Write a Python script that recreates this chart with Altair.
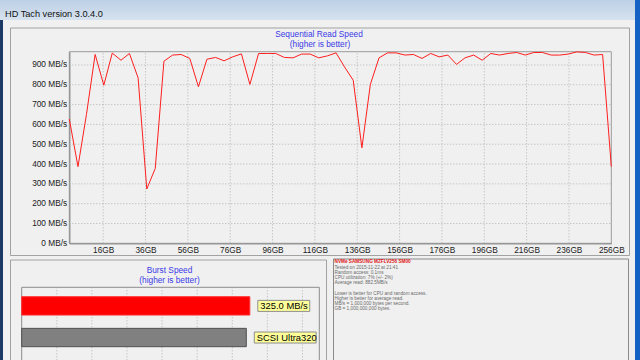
import altair as alt
import pandas as pd

# ---------------- data ----------------
gb = [0.0, 4.1, 8.1, 12.2, 16.3, 20.3, 24.4, 28.4, 32.5, 36.6, 40.6, 44.7, 48.8, 52.8,
      56.9, 61.0, 65.0, 69.1, 73.1, 77.2, 81.3, 85.3, 89.4, 93.5, 97.5, 101.6, 105.7,
      109.7, 113.8, 117.8, 121.9, 126.0, 130.0, 134.1, 138.2, 142.2, 146.3, 150.3, 154.4,
      158.5, 162.5, 166.6, 170.7, 174.7, 178.8, 182.9, 186.9, 191.0, 195.0, 199.1, 203.2,
      207.2, 211.3, 215.4, 219.4, 223.5, 227.6, 231.6, 235.7, 239.7, 243.8, 247.9, 251.9,
      256.0]
mbs = [627, 387, 650, 953, 798, 960, 924, 958, 835, 274,
       378, 919, 950, 953, 933, 790, 929, 938, 921, 941,
       956, 802, 958, 958, 958, 938, 936, 955, 955, 936,
       946, 961, 890, 823, 482, 802, 936, 961, 961, 950,
       953, 933, 958, 941, 950, 903, 936, 950, 924, 958,
       950, 958, 963, 950, 963, 963, 950, 950, 955, 966,
       963, 950, 953, 387]
y_ticks = [0, 100, 200, 300, 400, 500, 600, 700, 800, 900]
x_ticks = [16, 36, 56, 76, 96, 116, 136, 156, 176, 196, 216, 236, 256]

burst_rows = ["Drive", "SCSI Ultra320"]
burst_values = [325.0, 320.0]
burst_labels = ["325.0 MB/s", "SCSI Ultra320"]
burst_colors = ["#ff0000", "#808080"]
burst_strokes = ["#ff3030", "#505050"]
burst_grid = [50, 100, 150, 200, 250, 300, 350, 400]

info_lines = [
    "NVMe SAMSUNG MZFLV256 SM00",
    " Tested on 2015-11-22 at 21:41",
    " Random access: 0.1ms",
    " CPU utilization: 7% (+/- 2%)",
    " Average read: 882.5MB/s",
    "",
    "Lower is better for CPU and random access.",
    "Higher is better for average read.",
    "MB/s = 1,000,000 bytes per second.",
    "GB = 1,000,000,000 bytes.",
]

app_title = "HD Tach version 3.0.4.0"
seq_title = ["Sequential Read Speed", "(higher is better)"]
burst_title = ["Burst Speed", "(higher is better)"]

# ---------------- styling ----------------
FONT = "Liberation Sans"
BLUE = "#3a3ae6"
GRID = "#b2b2b2"
Y_MAX = 967
X_MAX = 256
B_MAX = 424

one = pd.DataFrame({"k": [0]})


def box(x1, x2, y1, y2, **kw):
    return alt.Chart(one).mark_rect(**kw).encode(
        x=alt.value(x1), x2=alt.value(x2), y=alt.value(y1), y2=alt.value(y2))


def label(txt, x, y, **kw):
    return alt.Chart(one).mark_text(text=txt, font=FONT, **kw).encode(
        x=alt.value(x), y=alt.value(y))


# window chrome
title_bar = box(0, 635, 0, 20, color=alt.Gradient(
    gradient="linear", x1=0, x2=0, y1=0, y2=1,
    stops=[alt.GradientStop(color="#bdd0e5", offset=0),
           alt.GradientStop(color="#d6e2ef", offset=1)]))
left_strip = box(0, 3, 20, 360, color="#1d3a66")
desktop = box(635, 640, 0, 360, color="#1463c4")
frame_kw = dict(fillOpacity=0, stroke="#a2a2a2", strokeWidth=1)
top_frame = box(10.5, 629.5, 28, 255.5, **frame_kw)
burst_frame = box(10.5, 326.5, 260, 375, **frame_kw)
info_frame = box(333.5, 628.5, 259, 375, stroke="#8a8a8a", fillOpacity=0, strokeWidth=1)
app_text = label(app_title, 5, 13.5, align="left", baseline="middle", fontSize=9.2, color="#111111")

seq_t1 = label(seq_title[0], 319, 35, align="center", baseline="middle", fontSize=8.3, color=BLUE)
seq_t2 = label(seq_title[1], 320, 44.5, align="center", baseline="middle", fontSize=8.3, color=BLUE)
bur_t1 = label(burst_title[0], 169.5, 270.7, align="center", baseline="middle", fontSize=8.3, color=BLUE)
bur_t2 = label(burst_title[1], 169.5, 280.7, align="center", baseline="middle", fontSize=8.3, color=BLUE)

# ---------------- sequential read chart ----------------
xs = alt.Scale(domain=[0, X_MAX], range=[69.3, 611.3], nice=False, zero=False)
ys = alt.Scale(domain=[0, Y_MAX], range=[243.3, 51.7], nice=False, zero=False)

axis_common = dict(grid=False, ticks=False, domain=True, domainColor="#5a5a5a",
                   labelFont=FONT, labelFontSize=8.3, labelColor="#1a1a1a",
                   title=None, labelFlush=False, labelOverlap=False)
x_axis = alt.Axis(orient="bottom", offset=-116.7, values=x_ticks, labelPadding=2,
                  labelExpr="datum.value + 'GB'", **axis_common)
y_axis = alt.Axis(orient="left", offset=-69.3, values=y_ticks, labelPadding=2.6,
                  labelExpr="datum.value + ' MB/s'", **axis_common)

seq = pd.DataFrame({"gb": gb, "mbs": mbs})

vg = pd.DataFrame({"t": x_ticks[:-1]})
vg["lo"] = 0
vg["hi"] = Y_MAX
hg = pd.DataFrame({"t": y_ticks[1:]})
hg["lo"] = 0
hg["hi"] = X_MAX
fr = pd.DataFrame({"x0": [0], "x1": [X_MAX], "y0": [0], "y1": [Y_MAX]})

vgrid = alt.Chart(vg).mark_rule(color=GRID, strokeDash=[1, 2], strokeWidth=1).encode(
    x=alt.X("t:Q", scale=xs, axis=x_axis),
    y=alt.Y("lo:Q", scale=ys, axis=y_axis), y2="hi:Q")
hgrid = alt.Chart(hg).mark_rule(color=GRID, strokeDash=[1, 2], strokeWidth=1).encode(
    y=alt.Y("t:Q", scale=ys, axis=y_axis),
    x=alt.X("lo:Q", scale=xs, axis=x_axis), x2="hi:Q")
plot_frame = alt.Chart(fr).mark_rect(fillOpacity=0, stroke="#9c9c9c", strokeWidth=1).encode(
    x=alt.X("x0:Q", scale=xs, axis=x_axis), x2="x1:Q",
    y=alt.Y("y0:Q", scale=ys, axis=y_axis), y2="y1:Q")
line = alt.Chart(seq).mark_line(color="#ff1e1e", strokeWidth=1).encode(
    x=alt.X("gb:Q", scale=xs, axis=x_axis),
    y=alt.Y("mbs:Q", scale=ys, axis=y_axis))

seq_chart = alt.layer(vgrid, hgrid, plot_frame, line)

# ---------------- burst chart ----------------
bxs = alt.Scale(domain=[0, B_MAX], range=[21.7, 319.3], nice=False, zero=False)
bys = alt.Scale(domain=burst_rows, range=[287.3, 356.1], paddingInner=0.42, paddingOuter=0.297)

burst = pd.DataFrame({"row": burst_rows, "value": burst_values, "label": burst_labels})
bg = pd.DataFrame({"t": burst_grid})

bgrid = alt.Chart(bg).mark_rule(color=GRID, strokeDash=[1, 2], strokeWidth=1).encode(
    x=alt.X("t:Q", scale=bxs, axis=None), y=alt.value(287.3), y2=alt.value(362))
bframe = box(21.7, 319.3, 287.3, 380, fillOpacity=0, stroke="#8c8c8c", strokeWidth=1)
bars = alt.Chart(burst).mark_bar(strokeWidth=1).encode(
    x=alt.X("value:Q", scale=bxs, axis=None),
    y=alt.Y("row:N", scale=bys, axis=None),
    color=alt.Color("row:N", scale=alt.Scale(domain=burst_rows, range=burst_colors), legend=None),
    stroke=alt.Stroke("row:N", scale=alt.Scale(domain=burst_rows, range=burst_strokes), legend=None))
boxes = alt.Chart(burst).transform_calculate(
    bend="datum.value + 27 + length(datum.label) * 4.7"
).mark_bar(height=11, fill="#ffff99", stroke="#8c8c8c", strokeWidth=1,
           xOffset=8, x2Offset=8).encode(
    x=alt.X("value:Q", scale=bxs, axis=None), x2="bend:Q",
    y=alt.Y("row:N", scale=bys, axis=None))
btext = alt.Chart(burst).mark_text(align="left", baseline="middle", dx=10.5,
                                   font=FONT, fontSize=9.4, color="#000000").encode(
    x=alt.X("value:Q", scale=bxs, axis=None),
    y=alt.Y("row:N", scale=bys, axis=None),
    text="label:N")

burst_chart = alt.layer(bgrid, bframe, bars, boxes, btext)

# ---------------- info text ----------------
info = pd.DataFrame({"i": list(range(len(info_lines))), "line": info_lines})
iys = alt.Scale(domain=[0, len(info_lines) - 1], range=[262.3, 309.1], nice=False, zero=False)
info_head = alt.Chart(info).transform_filter("datum.i == 0").mark_text(
    align="left", baseline="middle", font=FONT, fontSize=4.7, fontWeight="bold",
    color="#e01818").encode(
    x=alt.value(334.5), y=alt.Y("i:Q", scale=iys, axis=None), text="line:N")
info_body = alt.Chart(info).transform_filter("datum.i > 0").mark_text(
    align="left", baseline="middle", font=FONT, fontSize=4.7, color="#6a6a6a").encode(
    x=alt.value(334.5), y=alt.Y("i:Q", scale=iys, axis=None), text="line:N")
info_chart = alt.layer(info_head, info_body)

chart = alt.layer(
    title_bar, left_strip, desktop, top_frame, burst_frame, info_frame, app_text,
    seq_t1, seq_t2, bur_t1, bur_t2,
    seq_chart, burst_chart, info_chart,
).resolve_scale(x="independent", y="independent", color="independent", stroke="independent"
).properties(
    width=640, height=360, padding=0, background="#f0f0f0",
    autosize=alt.AutoSizeParams(type="none"),
).configure_view(strokeWidth=0)

chart.save("out.html", embed_options={"renderer": "svg", "actions": False})
